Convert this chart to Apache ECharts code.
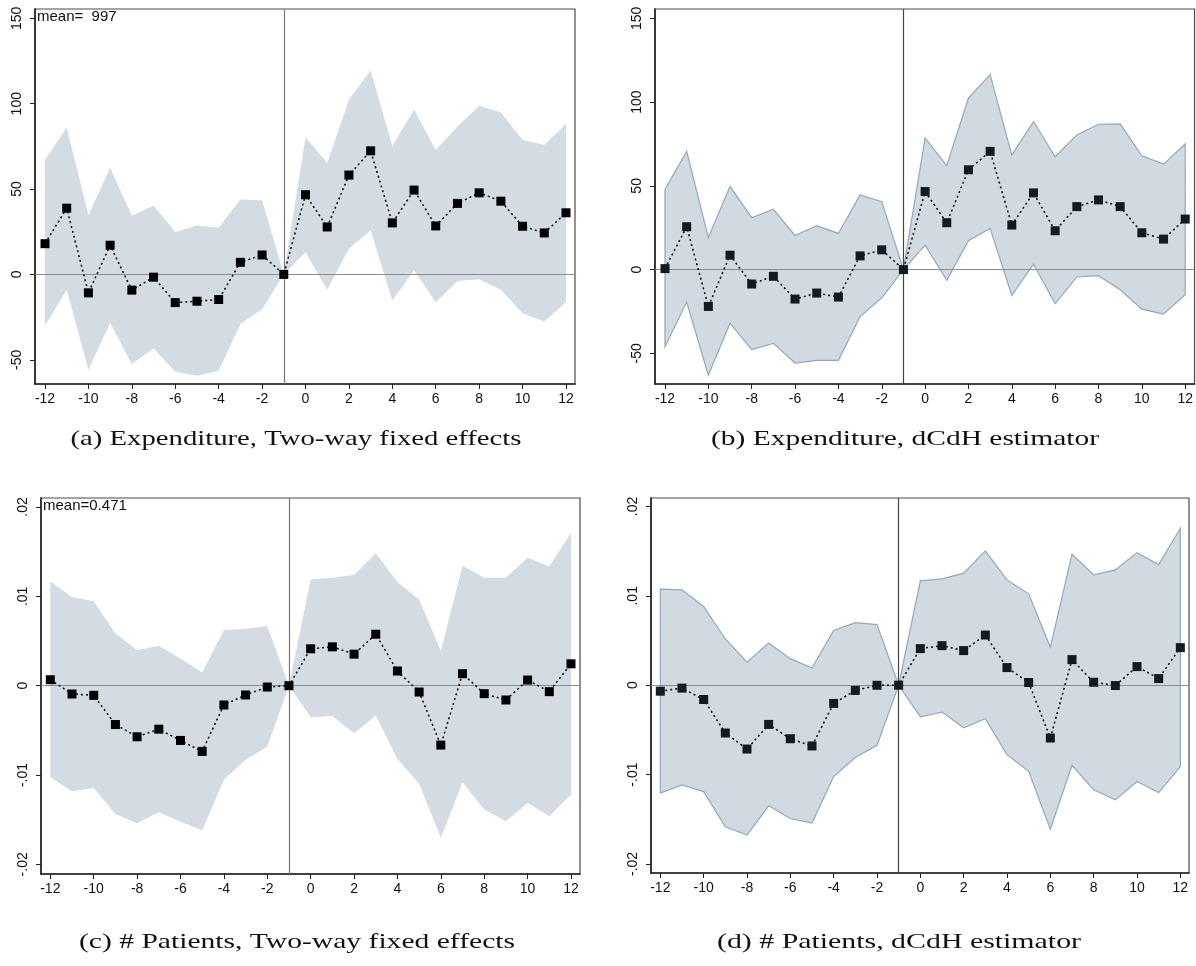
<!DOCTYPE html>
<html>
<head>
<meta charset="utf-8">
<title>Event-study estimates</title>
<script src="https://cdn.jsdelivr.net/npm/echarts@6/dist/echarts.min.js"></script>
<style>
  html, body { margin: 0; padding: 0; background: #fff; }
  #chart { width: 1196px; height: 966px; }
</style>
</head>
<body>
<div id="chart"></div>
<script>
// Event time relative to treatment (reference period -1)
const eventTime = [-12, -11, -10, -9, -8, -7, -6, -5, -4, -3, -2, -1, 0, 1, 2, 3, 4, 5, 6, 7, 8, 9, 10, 11, 12];

// Axis ticks
const xTicks = [-12, -10, -8, -6, -4, -2, 0, 2, 4, 6, 8, 10, 12];
const expTicks = [-50, 0, 50, 100, 150];
const patTicks = [-0.02, -0.01, 0, 0.01, 0.02];
const patTickLabels = ['-.02', '-.01', '0', '.01', '.02'];

// (a) Expenditure, two-way fixed effects
const expTwfeCoef = [18.0, 38.8, -10.8, 17.1, -9.2, -1.6, -16.5, -15.7, -14.7, 7.1, 11.4, 0, 46.7, 27.8, 58.2, 72.4, 30.2, 49.4, 28.4, 41.6, 47.8, 42.9, 28.2, 24.3, 36.1];
const expTwfeHi = [67.1, 86.1, 34.7, 62.5, 34.3, 40.2, 24.9, 28.6, 27.3, 43.9, 43.5, 0, 80.4, 65.1, 102.4, 119.4, 75.3, 96.5, 72.9, 86.7, 98.8, 94.9, 78.8, 75.9, 88.2];
const expTwfeLo = [-30, -9, -55.9, -28.4, -52.5, -43.3, -57, -59.4, -56.5, -29, -20.2, 0, 13.1, -9, 15.1, 25.9, -15.3, 2.4, -16.3, -3.9, -2.9, -9, -22.7, -27.6, -16.3];

// (b) Expenditure, dCdH estimator
const expDcdhCoef = [0.6, 25.6, -22, 8.6, -8.6, -4, -17.6, -14, -16.4, 8.2, 11.8, 0, 46.6, 28, 59.6, 70.6, 26.6, 45.8, 23.2, 37.6, 41.6, 37.6, 22, 18.2, 30.2];
const expDcdhHi = [48, 70.6, 19.2, 49.6, 31, 36, 20.4, 26.2, 21.6, 44.6, 40.6, 0, 78.6, 62, 102.4, 116.4, 68.4, 88.4, 67.4, 80.4, 86.8, 87, 68, 63, 75];
const expDcdhLo = [-46, -19.4, -63, -32, -47.8, -44, -55.8, -54.2, -54.2, -28, -16.8, 0, 14.6, -6.4, 17.2, 24.6, -15.4, 3.2, -20.4, -4.4, -3.6, -12, -23.6, -26.6, -15];

// (c) # Patients, two-way fixed effects
const patTwfeCoef = [0.00067, -0.00093, -0.00108, -0.00435, -0.00572, -0.00487, -0.00613, -0.00736, -0.00216, -0.00104, -0.00015, 0, 0.00413, 0.00435, 0.00353, 0.00576, 0.00164, -0.00071, -0.00665, 0.00134, -0.00089, -0.0016, 0.00063, -0.00067, 0.00245];
const patTwfeHi = [0.01167, 0.00993, 0.00944, 0.00584, 0.00398, 0.00446, 0.00305, 0.00149, 0.00621, 0.00636, 0.00669, 0, 0.0119, 0.01208, 0.01238, 0.01483, 0.0116, 0.00963, 0.00387, 0.01342, 0.01208, 0.01208, 0.01431, 0.01335, 0.0171];
const patTwfeLo = [-0.01026, -0.01182, -0.01145, -0.01435, -0.01539, -0.01416, -0.01524, -0.01617, -0.01052, -0.00829, -0.0068, 0, -0.00353, -0.00338, -0.00532, -0.00335, -0.00822, -0.01097, -0.01703, -0.01082, -0.01387, -0.01517, -0.01312, -0.01461, -0.01219];

// (d) # Patients, dCdH estimator
const patDcdhCoef = [-0.00067, -0.00033, -0.0016, -0.00535, -0.00714, -0.00439, -0.00599, -0.0068, -0.00204, -0.00059, -0.00001, 0, 0.00409, 0.00442, 0.00387, 0.00561, 0.00197, 0.0003, -0.00591, 0.00286, 0.00033, -0.00004, 0.00208, 0.00074, 0.0042];
const patDcdhHi = [0.01074, 0.01067, 0.00881, 0.00517, 0.00257, 0.00472, 0.00297, 0.00193, 0.00613, 0.00699, 0.00677, 0, 0.01167, 0.0119, 0.01253, 0.01502, 0.01178, 0.01022, 0.00424, 0.01465, 0.01234, 0.0129, 0.01483, 0.01349, 0.01755];
const patDcdhLo = [-0.01208, -0.01115, -0.0119, -0.01584, -0.01677, -0.01349, -0.01491, -0.01543, -0.01022, -0.0081, -0.00673, 0, -0.00353, -0.00301, -0.00476, -0.00375, -0.00777, -0.00963, -0.0161, -0.00896, -0.01171, -0.01283, -0.01078, -0.01201, -0.00914];

// Captions and notes
const captions = [
  '(a) Expenditure, Two-way fixed effects',
  '(b) Expenditure, dCdH estimator',
  '(c) # Patients, Two-way fixed effects',
  '(d) # Patients, dCdH estimator'
];
const meanNotes = ['mean=  997', 'mean=0.471'];

const AXIS_FONT = 'Liberation Sans, Arial, sans-serif';
const CAPTION_FONT = 'Liberation Serif, Times New Roman, serif';

// Panel layout: plot boxes and axis extents
const panels = [
  { grid: { left: 35, top: 9, width: 540, height: 375 }, x: [-12.461, 12.415], y: [-64.2, 155.5],
    coef: expTwfeCoef, hi: expTwfeHi, lo: expTwfeLo, ticks: expTicks, tickLabels: null,
    fill: '#d3dbe3', stroke: null, marker: '#000000', vline: '#777777', zline: '#8c8c8c' },
  { grid: { left: 655, top: 9, width: 540, height: 375 }, x: [-12.461, 12.43], y: [-68.3, 155.6],
    coef: expDcdhCoef, hi: expDcdhHi, lo: expDcdhLo, ticks: expTicks, tickLabels: null,
    fill: '#d1d9e1', stroke: '#93a8bd', marker: '#121a22', vline: '#444444', zline: '#8c8c8c' },
  { grid: { left: 41, top: 498, width: 539, height: 376 }, x: [-12.43, 12.415], y: [-0.02108, 0.02101],
    coef: patTwfeCoef, hi: patTwfeHi, lo: patTwfeLo, ticks: patTicks, tickLabels: patTickLabels,
    fill: '#d3dbe3', stroke: null, marker: '#000000', vline: '#777777', zline: '#8c8c8c' },
  { grid: { left: 651, top: 498, width: 538, height: 375 }, x: [-12.43, 12.40], y: [-0.02101, 0.02094],
    coef: patDcdhCoef, hi: patDcdhHi, lo: patDcdhLo, ticks: patTicks, tickLabels: patTickLabels,
    fill: '#d1d9e1', stroke: '#93a8bd', marker: '#121a22', vline: '#444444', zline: '#8c8c8c' }
];

const grids = [], xAxes = [], yAxes = [], series = [];

panels.forEach((p, k) => {
  grids.push(Object.assign({ show: true, borderColor: '#4a4a4a', borderWidth: 1.2, backgroundColor: 'transparent' }, p.grid));

  xAxes.push({
    gridIndex: k, type: 'value', min: p.x[0], max: p.x[1],
    axisLine: { show: true, onZero: false, lineStyle: { color: '#222', width: 1.6 } },
    axisTick: { show: true, length: 5, customValues: xTicks, lineStyle: { color: '#222', width: 1 } },
    axisLabel: { customValues: xTicks, margin: 8, fontSize: 14, color: '#111', fontFamily: AXIS_FONT },
    splitLine: { show: false }
  });

  yAxes.push({
    gridIndex: k, type: 'value', min: p.y[0], max: p.y[1],
    axisLine: { show: true, onZero: false, lineStyle: { color: '#222', width: 1.6 } },
    axisTick: { show: true, length: 5, customValues: p.ticks, lineStyle: { color: '#222', width: 1 } },
    axisLabel: {
      customValues: p.ticks, rotate: 90, margin: 11, fontSize: 14, color: '#111', fontFamily: AXIS_FONT,
      formatter: (v) => {
        if (!p.tickLabels) return String(v);
        const i = p.ticks.findIndex((t) => Math.abs(t - v) < 1e-9);
        return i >= 0 ? p.tickLabels[i] : '';
      }
    },
    splitLine: { show: false }
  });

  // Confidence band as a single filled polygon (upper edge forward, lower edge back)
  series.push({
    type: 'custom', xAxisIndex: k, yAxisIndex: k, z: 1, silent: true,
    data: eventTime.map((t, i) => [t, p.lo[i], p.hi[i]]),
    encode: { x: 0, y: [1, 2] },
    renderItem: (params, api) => {
      if (params.dataIndex !== 0) return null;
      const pts = [];
      for (let i = 0; i < eventTime.length; i++) pts.push(api.coord([eventTime[i], p.hi[i]]));
      for (let i = eventTime.length - 1; i >= 0; i--) pts.push(api.coord([eventTime[i], p.lo[i]]));
      return {
        type: 'polygon',
        shape: { points: pts },
        style: { fill: p.fill, stroke: p.stroke || 'none', lineWidth: p.stroke ? 1.2 : 0 }
      };
    }
  });

  // Point estimates joined by a dotted line, with reference lines at 0 and t = -1
  series.push({
    type: 'line', xAxisIndex: k, yAxisIndex: k, z: 3,
    data: eventTime.map((t, i) => [t, p.coef[i]]),
    symbol: 'rect', symbolSize: 9, showSymbol: true,
    itemStyle: { color: p.marker },
    lineStyle: { color: '#000', width: 1.5, type: [2, 3] },
    markLine: {
      silent: true, symbol: 'none', animation: false, z: 2,
      label: { show: false },
      data: [
        { yAxis: 0, lineStyle: { color: p.zline, width: 1.2, type: 'solid' } },
        { xAxis: -1, lineStyle: { color: p.vline, width: 1.2, type: 'solid' } }
      ]
    }
  });
});

// Scale a caption horizontally to the width set by the serif caption font
const measureCtx = document.createElement('canvas').getContext('2d');
function captionText(text, cx, cy, targetWidth) {
  const size = 21.5;
  measureCtx.font = size + 'px ' + CAPTION_FONT;
  const w = measureCtx.measureText(text).width;
  return {
    type: 'text', x: cx, y: cy, scaleX: targetWidth / w, silent: true,
    style: { text: text, fontSize: size, fontFamily: CAPTION_FONT, fill: '#111', align: 'center', verticalAlign: 'middle' }
  };
}

const graphics = [
  captionText(captions[0], 296, 439, 451),
  captionText(captions[1], 905, 439, 388),
  captionText(captions[2], 297, 942, 436),
  captionText(captions[3], 899, 942, 364),
  { type: 'text', x: 37, y: 9, silent: true,
    style: { text: meanNotes[0], fontSize: 15, fontFamily: AXIS_FONT, fill: '#111', align: 'left', verticalAlign: 'top' } },
  { type: 'text', x: 43, y: 498, silent: true,
    style: { text: meanNotes[1], fontSize: 15, fontFamily: AXIS_FONT, fill: '#111', align: 'left', verticalAlign: 'top' } }
];

const chart = echarts.init(document.getElementById('chart'), null, { renderer: 'canvas', width: 1196, height: 966 });
chart.setOption({
  animation: false,
  backgroundColor: '#ffffff',
  grid: grids,
  xAxis: xAxes,
  yAxis: yAxes,
  series: series,
  graphic: graphics
});
</script>
</body>
</html>
